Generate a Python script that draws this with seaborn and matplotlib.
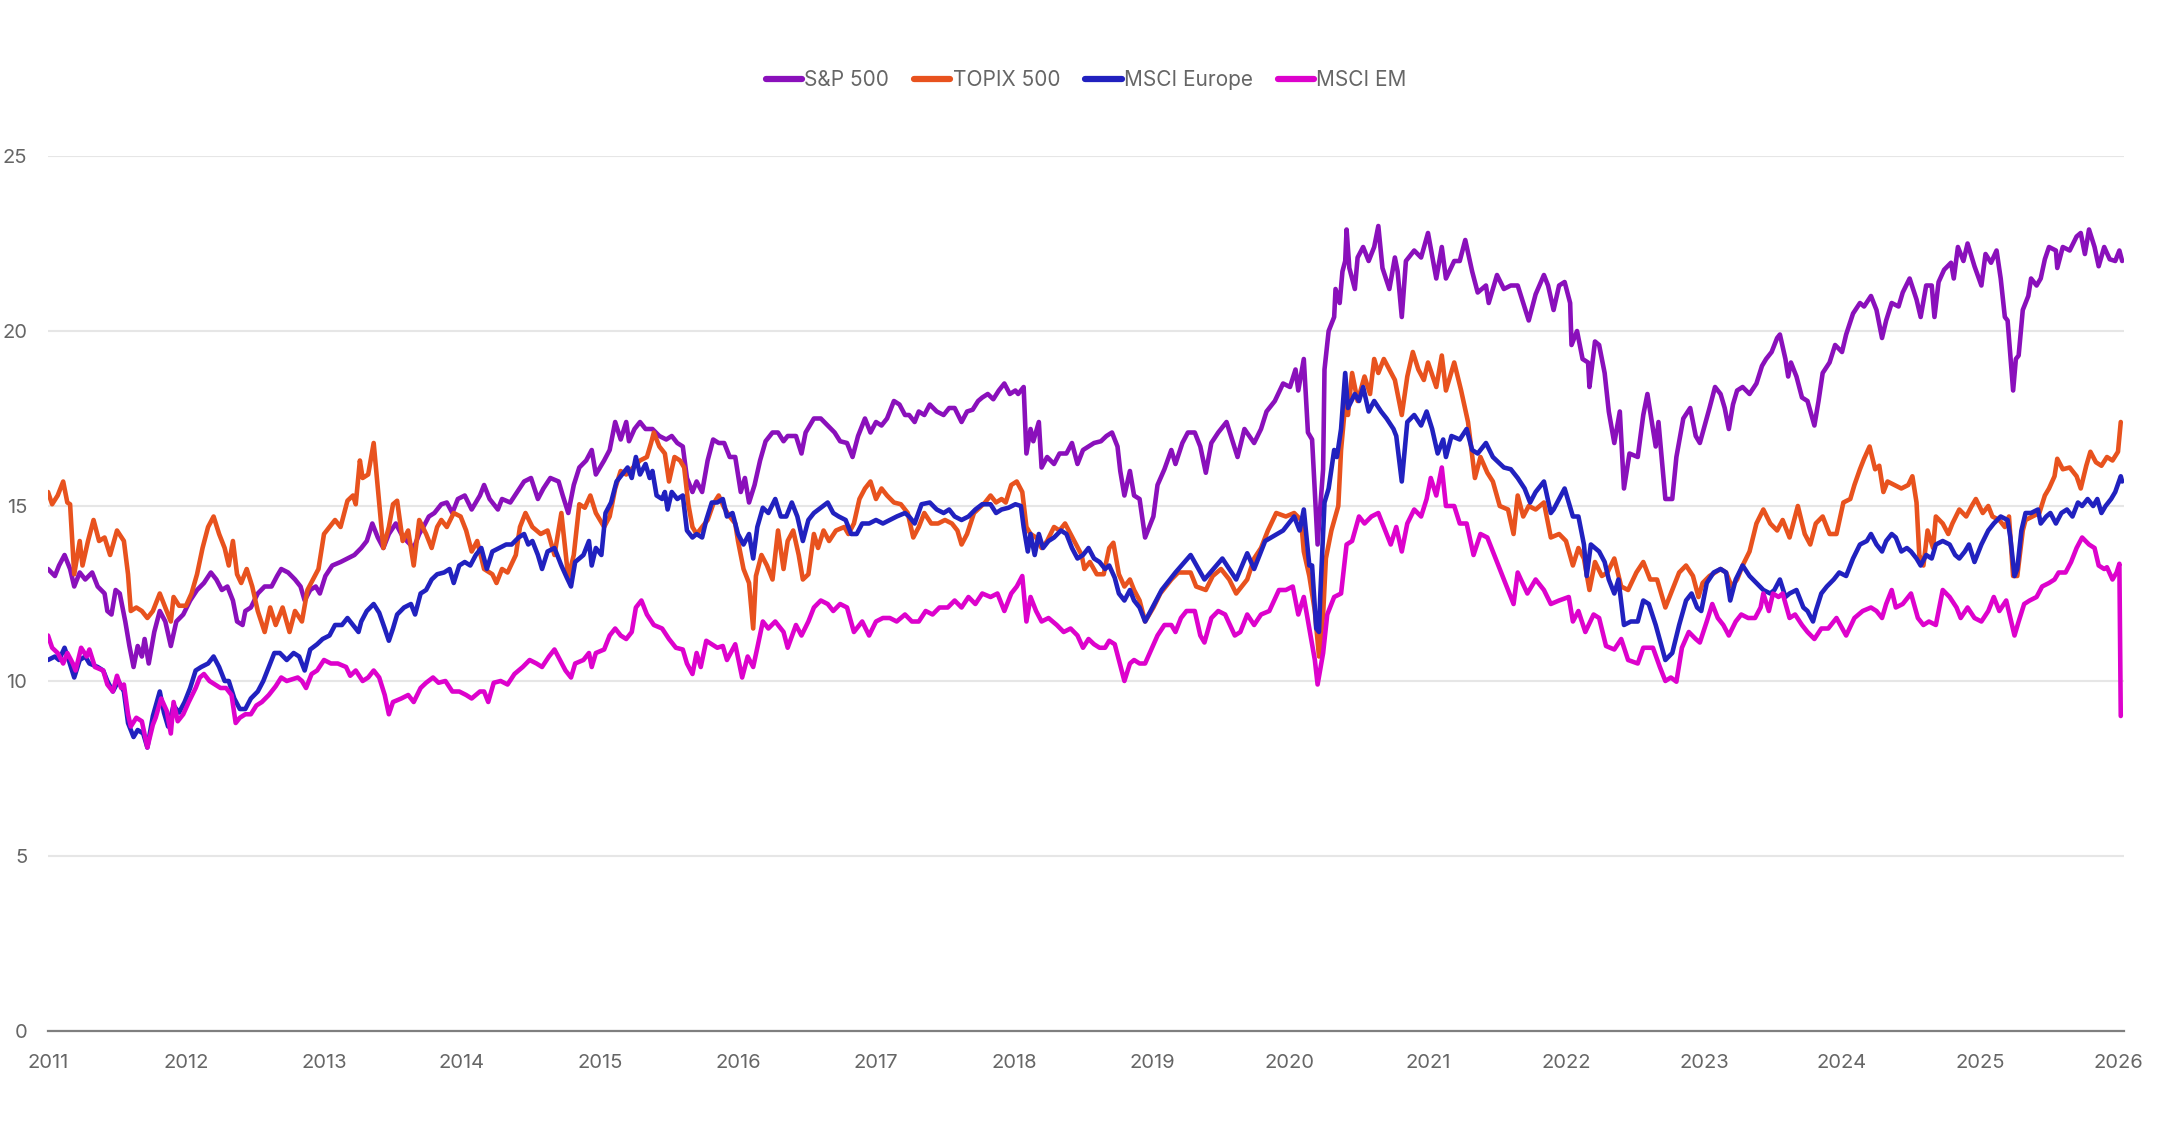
import pandas as pd
import matplotlib
matplotlib.use("Agg")
import matplotlib.pyplot as plt
import seaborn as sns

# Forward P/E (decimal year, value)
sp500 = [
    (2011.00, 13.2), (2011.05, 13.0), (2011.08, 13.3), (2011.12, 13.6), (2011.16, 13.2), (2011.19, 12.7),
    (2011.23, 13.1), (2011.27, 12.9), (2011.32, 13.1), (2011.36, 12.7), (2011.41, 12.5), (2011.43, 12.0),
    (2011.46, 11.9), (2011.49, 12.6), (2011.52, 12.5), (2011.56, 11.7), (2011.59, 11.0), (2011.62, 10.4),
    (2011.65, 11.0), (2011.68, 10.7), (2011.70, 11.2), (2011.73, 10.5), (2011.77, 11.4), (2011.81, 12.0),
    (2011.85, 11.7), (2011.89, 11.0), (2011.93, 11.7), (2011.98, 11.9), (2012.03, 12.3), (2012.08, 12.6),
    (2012.13, 12.8), (2012.18, 13.1), (2012.22, 12.9), (2012.26, 12.6), (2012.30, 12.7), (2012.34, 12.3),
    (2012.37, 11.7), (2012.41, 11.6), (2012.43, 12.0), (2012.47, 12.1), (2012.52, 12.5), (2012.57, 12.7),
    (2012.62, 12.7), (2012.66, 13.0), (2012.69, 13.2), (2012.74, 13.1), (2012.79, 12.9), (2012.83, 12.7),
    (2012.86, 12.3), (2012.90, 12.6), (2012.94, 12.7), (2012.97, 12.5), (2013.01, 13.0), (2013.06, 13.3),
    (2013.12, 13.4), (2013.17, 13.5), (2013.22, 13.6), (2013.27, 13.8), (2013.31, 14.0), (2013.35, 14.5),
    (2013.39, 14.1), (2013.43, 13.8), (2013.47, 14.2), (2013.52, 14.5), (2013.56, 14.2), (2013.60, 14.0),
    (2013.65, 13.8), (2013.69, 14.2), (2013.72, 14.4), (2013.76, 14.7), (2013.80, 14.8), (2013.85, 15.05),
    (2013.89, 15.1), (2013.93, 14.8), (2013.97, 15.2), (2014.02, 15.3), (2014.07, 14.9), (2014.13, 15.3),
    (2014.16, 15.6), (2014.20, 15.2), (2014.26, 14.9), (2014.29, 15.2), (2014.35, 15.1), (2014.40, 15.4),
    (2014.45, 15.7), (2014.50, 15.8), (2014.55, 15.2), (2014.59, 15.5), (2014.64, 15.8), (2014.70, 15.7),
    (2014.73, 15.3), (2014.77, 14.8), (2014.81, 15.6), (2014.85, 16.1), (2014.90, 16.3), (2014.94, 16.6),
    (2014.97, 15.9), (2015.03, 16.3), (2015.07, 16.6), (2015.11, 17.4), (2015.15, 16.9), (2015.19, 17.4),
    (2015.21, 16.85), (2015.25, 17.2), (2015.29, 17.4), (2015.33, 17.2), (2015.38, 17.2), (2015.43, 17.0),
    (2015.48, 16.9), (2015.52, 17.0), (2015.56, 16.8), (2015.60, 16.7), (2015.63, 15.8), (2015.67, 15.4),
    (2015.70, 15.7), (2015.74, 15.4), (2015.78, 16.3), (2015.82, 16.9), (2015.86, 16.8), (2015.90, 16.8),
    (2015.94, 16.4), (2015.98, 16.4), (2016.02, 15.4), (2016.05, 15.8), (2016.08, 15.1), (2016.12, 15.6),
    (2016.16, 16.3), (2016.20, 16.85), (2016.25, 17.1), (2016.29, 17.1), (2016.33, 16.85), (2016.36, 17.0),
    (2016.42, 17.0), (2016.46, 16.5), (2016.49, 17.1), (2016.55, 17.5), (2016.60, 17.5), (2016.65, 17.3),
    (2016.70, 17.1), (2016.74, 16.85), (2016.79, 16.8), (2016.83, 16.4), (2016.87, 17.0), (2016.92, 17.5),
    (2016.96, 17.1), (2017.00, 17.4), (2017.04, 17.3), (2017.08, 17.5), (2017.13, 18.0), (2017.17, 17.9),
    (2017.21, 17.6), (2017.24, 17.6), (2017.28, 17.4), (2017.31, 17.7), (2017.35, 17.6), (2017.39, 17.9),
    (2017.44, 17.7), (2017.49, 17.6), (2017.53, 17.8), (2017.57, 17.8), (2017.62, 17.4), (2017.66, 17.7),
    (2017.70, 17.75), (2017.74, 18.0), (2017.77, 18.1), (2017.81, 18.2), (2017.85, 18.05), (2017.89, 18.3),
    (2017.93, 18.5), (2017.97, 18.2), (2018.01, 18.3), (2018.03, 18.2), (2018.07, 18.4), (2018.09, 16.5),
    (2018.12, 17.2), (2018.14, 16.85), (2018.18, 17.4), (2018.20, 16.1), (2018.24, 16.4), (2018.29, 16.2),
    (2018.33, 16.5), (2018.38, 16.5), (2018.42, 16.8), (2018.46, 16.2), (2018.50, 16.6), (2018.54, 16.7),
    (2018.58, 16.8), (2018.63, 16.85), (2018.67, 17.0), (2018.71, 17.1), (2018.75, 16.7), (2018.77, 16.0),
    (2018.80, 15.3), (2018.84, 16.0), (2018.87, 15.3), (2018.91, 15.2), (2018.95, 14.1), (2019.01, 14.7),
    (2019.04, 15.6), (2019.09, 16.05), (2019.14, 16.6), (2019.17, 16.2), (2019.22, 16.8), (2019.26, 17.1),
    (2019.31, 17.1), (2019.35, 16.7), (2019.39, 15.95), (2019.43, 16.8), (2019.48, 17.1), (2019.54, 17.4),
    (2019.58, 16.9), (2019.62, 16.4), (2019.67, 17.2), (2019.74, 16.8), (2019.79, 17.2), (2019.83, 17.7),
    (2019.89, 18.0), (2019.95, 18.5), (2020.00, 18.4), (2020.04, 18.9), (2020.06, 18.3), (2020.10, 19.2),
    (2020.13, 17.1), (2020.16, 16.9), (2020.20, 13.9), (2020.22, 15.0), (2020.24, 16.05), (2020.25, 18.9),
    (2020.28, 20.0), (2020.32, 20.4), (2020.33, 21.2), (2020.36, 20.8), (2020.38, 21.7), (2020.40, 22.0),
    (2020.41, 22.9), (2020.43, 21.8), (2020.47, 21.2), (2020.49, 22.1), (2020.53, 22.4), (2020.57, 22.0),
    (2020.61, 22.4), (2020.64, 23.0), (2020.67, 21.8), (2020.72, 21.2), (2020.76, 22.1), (2020.78, 21.7),
    (2020.81, 20.4), (2020.84, 22.0), (2020.90, 22.3), (2020.95, 22.1), (2021.00, 22.8), (2021.06, 21.5),
    (2021.10, 22.4), (2021.13, 21.5), (2021.19, 22.0), (2021.23, 22.0), (2021.27, 22.6), (2021.32, 21.7),
    (2021.36, 21.1), (2021.42, 21.3), (2021.44, 20.8), (2021.50, 21.6), (2021.55, 21.2), (2021.60, 21.3),
    (2021.65, 21.3), (2021.69, 20.8), (2021.73, 20.3), (2021.78, 21.05), (2021.84, 21.6), (2021.87, 21.3),
    (2021.91, 20.6), (2021.95, 21.3), (2021.99, 21.4), (2022.03, 20.8), (2022.04, 19.6), (2022.08, 20.0),
    (2022.12, 19.2), (2022.16, 19.1), (2022.17, 18.4), (2022.21, 19.7), (2022.24, 19.6), (2022.28, 18.8),
    (2022.31, 17.7), (2022.35, 16.8), (2022.39, 17.7), (2022.42, 15.5), (2022.46, 16.5), (2022.52, 16.4),
    (2022.56, 17.6), (2022.59, 18.2), (2022.65, 16.7), (2022.67, 17.4), (2022.72, 15.2), (2022.77, 15.2),
    (2022.80, 16.4), (2022.85, 17.5), (2022.90, 17.8), (2022.94, 17.0), (2022.97, 16.8), (2023.04, 17.8),
    (2023.08, 18.4), (2023.12, 18.2), (2023.15, 17.8), (2023.18, 17.2), (2023.21, 17.9), (2023.24, 18.3),
    (2023.28, 18.4), (2023.33, 18.2), (2023.38, 18.5), (2023.42, 19.0), (2023.45, 19.2), (2023.49, 19.4),
    (2023.53, 19.8), (2023.55, 19.9), (2023.59, 19.2), (2023.61, 18.7), (2023.63, 19.1), (2023.67, 18.7),
    (2023.71, 18.1), (2023.75, 18.0), (2023.80, 17.3), (2023.83, 18.0), (2023.86, 18.8), (2023.91, 19.1),
    (2023.95, 19.6), (2024.00, 19.4), (2024.03, 19.9), (2024.08, 20.5), (2024.13, 20.8), (2024.16, 20.7),
    (2024.21, 21.0), (2024.25, 20.6), (2024.29, 19.8), (2024.32, 20.3), (2024.36, 20.8), (2024.41, 20.7),
    (2024.44, 21.1), (2024.49, 21.5), (2024.54, 20.9), (2024.57, 20.4), (2024.61, 21.3), (2024.65, 21.3),
    (2024.67, 20.4), (2024.70, 21.4), (2024.74, 21.75), (2024.79, 21.95), (2024.81, 21.5), (2024.84, 22.4),
    (2024.88, 22.0), (2024.91, 22.5), (2024.96, 21.85), (2025.01, 21.3), (2025.04, 22.2), (2025.08, 21.95),
    (2025.12, 22.3), (2025.15, 21.5), (2025.18, 20.4), (2025.20, 20.3), (2025.22, 19.3), (2025.24, 18.3),
    (2025.26, 19.2), (2025.28, 19.3), (2025.31, 20.6), (2025.35, 21.0), (2025.37, 21.5), (2025.41, 21.3),
    (2025.44, 21.5), (2025.47, 22.05), (2025.50, 22.4), (2025.55, 22.3), (2025.56, 21.8), (2025.60, 22.4),
    (2025.65, 22.3), (2025.70, 22.7), (2025.73, 22.8), (2025.76, 22.2), (2025.79, 22.9), (2025.83, 22.4),
    (2025.86, 21.85), (2025.90, 22.4), (2025.94, 22.05), (2025.98, 22.0), (2026.01, 22.3), (2026.03, 22.0),
]

topix500 = [
    (2011.00, 15.4), (2011.03, 15.05), (2011.07, 15.3), (2011.11, 15.7), (2011.14, 15.1), (2011.16, 15.05),
    (2011.19, 13.05), (2011.23, 14.0), (2011.25, 13.3), (2011.29, 14.0), (2011.33, 14.6), (2011.37, 14.0),
    (2011.41, 14.1), (2011.45, 13.6), (2011.50, 14.3), (2011.55, 14.0), (2011.58, 13.05), (2011.60, 12.0),
    (2011.64, 12.1), (2011.68, 12.0), (2011.72, 11.8), (2011.76, 12.0), (2011.81, 12.5), (2011.85, 12.1),
    (2011.89, 11.7), (2011.91, 12.4), (2011.95, 12.15), (2012.00, 12.15), (2012.04, 12.5), (2012.08, 13.05),
    (2012.12, 13.8), (2012.16, 14.4), (2012.20, 14.7), (2012.24, 14.2), (2012.28, 13.8), (2012.31, 13.3),
    (2012.34, 14.0), (2012.37, 13.05), (2012.40, 12.8), (2012.44, 13.2), (2012.48, 12.7), (2012.52, 12.0),
    (2012.57, 11.4), (2012.61, 12.1), (2012.65, 11.6), (2012.70, 12.1), (2012.75, 11.4), (2012.79, 12.0),
    (2012.84, 11.7), (2012.88, 12.6), (2012.92, 12.9), (2012.96, 13.2), (2013.00, 14.2), (2013.04, 14.4),
    (2013.08, 14.6), (2013.12, 14.4), (2013.17, 15.15), (2013.21, 15.3), (2013.23, 15.05), (2013.26, 16.3),
    (2013.28, 15.8), (2013.32, 15.9), (2013.36, 16.8), (2013.39, 15.5), (2013.43, 13.8), (2013.47, 14.4),
    (2013.50, 15.05), (2013.53, 15.15), (2013.57, 14.0), (2013.61, 14.3), (2013.65, 13.3), (2013.69, 14.6),
    (2013.74, 14.2), (2013.78, 13.8), (2013.82, 14.4), (2013.85, 14.6), (2013.89, 14.4), (2013.94, 14.8),
    (2013.99, 14.7), (2014.03, 14.3), (2014.07, 13.7), (2014.11, 14.0), (2014.16, 13.2), (2014.22, 13.05),
    (2014.25, 12.8), (2014.29, 13.2), (2014.33, 13.1), (2014.39, 13.6), (2014.42, 14.4), (2014.46, 14.8),
    (2014.51, 14.4), (2014.57, 14.2), (2014.62, 14.3), (2014.67, 13.6), (2014.72, 14.8), (2014.77, 12.95),
    (2014.81, 13.6), (2014.85, 15.05), (2014.89, 14.95), (2014.93, 15.3), (2014.97, 14.8), (2015.03, 14.4),
    (2015.07, 14.7), (2015.11, 15.5), (2015.15, 16.0), (2015.19, 15.9), (2015.24, 16.1), (2015.29, 16.3),
    (2015.34, 16.4), (2015.37, 16.8), (2015.39, 17.1), (2015.43, 16.7), (2015.47, 16.5), (2015.50, 15.7),
    (2015.54, 16.4), (2015.58, 16.3), (2015.61, 16.1), (2015.64, 15.05), (2015.67, 14.4), (2015.70, 14.2),
    (2015.74, 14.4), (2015.78, 14.6), (2015.82, 15.05), (2015.86, 15.3), (2015.90, 14.95), (2015.94, 14.7),
    (2015.98, 14.5), (2016.00, 14.0), (2016.04, 13.2), (2016.08, 12.8), (2016.11, 11.5), (2016.13, 13.0),
    (2016.17, 13.6), (2016.21, 13.3), (2016.25, 12.9), (2016.29, 14.3), (2016.33, 13.2), (2016.36, 14.0),
    (2016.40, 14.3), (2016.44, 13.6), (2016.47, 12.9), (2016.51, 13.05), (2016.55, 14.2), (2016.58, 13.8),
    (2016.62, 14.3), (2016.66, 14.0), (2016.71, 14.3), (2016.77, 14.4), (2016.80, 14.2), (2016.84, 14.5),
    (2016.88, 15.2), (2016.92, 15.5), (2016.96, 15.7), (2017.00, 15.2), (2017.04, 15.5), (2017.08, 15.3),
    (2017.13, 15.1), (2017.18, 15.05), (2017.23, 14.8), (2017.27, 14.1), (2017.31, 14.4), (2017.35, 14.8),
    (2017.40, 14.5), (2017.45, 14.5), (2017.50, 14.6), (2017.55, 14.5), (2017.59, 14.3), (2017.62, 13.9),
    (2017.66, 14.2), (2017.71, 14.8), (2017.75, 14.95), (2017.79, 15.1), (2017.83, 15.3), (2017.87, 15.1),
    (2017.91, 15.2), (2017.94, 15.1), (2017.98, 15.6), (2018.02, 15.7), (2018.06, 15.4), (2018.09, 14.4),
    (2018.12, 14.2), (2018.16, 14.1), (2018.20, 13.8), (2018.24, 14.0), (2018.29, 14.4), (2018.33, 14.3),
    (2018.37, 14.5), (2018.41, 14.2), (2018.45, 13.9), (2018.49, 13.6), (2018.51, 13.2), (2018.55, 13.4),
    (2018.60, 13.05), (2018.65, 13.05), (2018.69, 13.8), (2018.72, 13.95), (2018.76, 13.05), (2018.80, 12.7),
    (2018.84, 12.9), (2018.87, 12.6), (2018.91, 12.3), (2018.95, 11.7), (2019.01, 12.1), (2019.06, 12.5),
    (2019.14, 12.9), (2019.19, 13.1), (2019.28, 13.1), (2019.32, 12.7), (2019.39, 12.6), (2019.44, 13.0),
    (2019.50, 13.2), (2019.56, 12.9), (2019.61, 12.5), (2019.69, 12.9), (2019.74, 13.5), (2019.79, 13.8),
    (2019.84, 14.3), (2019.90, 14.8), (2019.97, 14.7), (2020.03, 14.8), (2020.08, 14.6), (2020.10, 13.7),
    (2020.14, 13.0), (2020.18, 12.0), (2020.21, 10.7), (2020.24, 11.9), (2020.26, 13.5), (2020.30, 14.3),
    (2020.35, 15.0), (2020.37, 16.6), (2020.40, 17.9), (2020.42, 17.6), (2020.45, 18.8), (2020.49, 18.0),
    (2020.54, 18.7), (2020.58, 18.2), (2020.61, 19.2), (2020.64, 18.8), (2020.68, 19.2), (2020.72, 18.9),
    (2020.76, 18.6), (2020.81, 17.6), (2020.85, 18.7), (2020.89, 19.4), (2020.93, 18.9), (2020.97, 18.6),
    (2021.00, 19.1), (2021.06, 18.4), (2021.10, 19.3), (2021.13, 18.3), (2021.19, 19.1), (2021.24, 18.3),
    (2021.29, 17.4), (2021.34, 15.8), (2021.38, 16.4), (2021.43, 15.95), (2021.47, 15.7), (2021.52, 15.0),
    (2021.58, 14.9), (2021.62, 14.2), (2021.65, 15.3), (2021.69, 14.7), (2021.73, 15.0), (2021.78, 14.9),
    (2021.84, 15.1), (2021.89, 14.1), (2021.95, 14.2), (2022.00, 14.0), (2022.05, 13.3), (2022.09, 13.8),
    (2022.13, 13.5), (2022.17, 12.6), (2022.21, 13.4), (2022.26, 13.0), (2022.30, 13.1), (2022.35, 13.5),
    (2022.40, 12.7), (2022.45, 12.6), (2022.51, 13.1), (2022.56, 13.4), (2022.61, 12.9), (2022.66, 12.9),
    (2022.72, 12.1), (2022.76, 12.5), (2022.82, 13.1), (2022.87, 13.3), (2022.92, 13.0), (2022.96, 12.4),
    (2022.99, 12.8), (2023.04, 13.0), (2023.12, 13.2), (2023.16, 13.1), (2023.20, 12.7), (2023.24, 12.9),
    (2023.28, 13.3), (2023.33, 13.7), (2023.38, 14.5), (2023.43, 14.9), (2023.48, 14.5), (2023.53, 14.3),
    (2023.57, 14.6), (2023.62, 14.1), (2023.68, 15.0), (2023.73, 14.2), (2023.77, 13.9), (2023.81, 14.5),
    (2023.86, 14.7), (2023.91, 14.2), (2023.96, 14.2), (2024.01, 15.1), (2024.06, 15.2), (2024.09, 15.6),
    (2024.13, 16.05), (2024.16, 16.35), (2024.20, 16.7), (2024.24, 16.05), (2024.27, 16.15), (2024.30, 15.4),
    (2024.33, 15.7), (2024.38, 15.6), (2024.43, 15.5), (2024.48, 15.6), (2024.51, 15.85), (2024.54, 15.1),
    (2024.56, 13.6), (2024.59, 13.3), (2024.62, 14.3), (2024.66, 13.8), (2024.68, 14.7), (2024.73, 14.5),
    (2024.77, 14.2), (2024.80, 14.5), (2024.85, 14.9), (2024.90, 14.7), (2024.94, 15.0), (2024.97, 15.2),
    (2025.02, 14.8), (2025.06, 15.0), (2025.09, 14.7), (2025.14, 14.6), (2025.18, 14.4), (2025.21, 14.7),
    (2025.24, 13.0), (2025.27, 13.0), (2025.31, 14.3), (2025.33, 14.6), (2025.38, 14.7), (2025.43, 14.8),
    (2025.47, 15.3), (2025.50, 15.5), (2025.54, 15.85), (2025.56, 16.35), (2025.60, 16.05), (2025.65, 16.1),
    (2025.70, 15.85), (2025.73, 15.5), (2025.77, 16.15), (2025.80, 16.55), (2025.84, 16.25), (2025.88, 16.15),
    (2025.92, 16.4), (2025.96, 16.3), (2026.00, 16.55), (2026.02, 17.4),
]

msci_europe = [
    (2011.00, 10.6), (2011.05, 10.7), (2011.08, 10.6), (2011.12, 10.95), (2011.15, 10.6), (2011.19, 10.1),
    (2011.23, 10.6), (2011.27, 10.7), (2011.30, 10.5), (2011.36, 10.4), (2011.40, 10.3), (2011.43, 10.0),
    (2011.47, 9.7), (2011.51, 10.0), (2011.55, 9.7), (2011.58, 8.8), (2011.62, 8.4), (2011.65, 8.6),
    (2011.69, 8.5), (2011.72, 8.1), (2011.76, 9.0), (2011.81, 9.7), (2011.84, 9.1), (2011.87, 8.7),
    (2011.91, 9.3), (2011.95, 9.1), (2011.99, 9.4), (2012.03, 9.8), (2012.07, 10.3), (2012.11, 10.4),
    (2012.16, 10.5), (2012.20, 10.7), (2012.24, 10.4), (2012.28, 10.0), (2012.31, 10.0), (2012.35, 9.5),
    (2012.39, 9.2), (2012.43, 9.2), (2012.47, 9.5), (2012.52, 9.7), (2012.56, 10.0), (2012.60, 10.4),
    (2012.64, 10.8), (2012.68, 10.8), (2012.73, 10.6), (2012.78, 10.8), (2012.82, 10.7), (2012.86, 10.3),
    (2012.90, 10.9), (2012.95, 11.05), (2012.99, 11.2), (2013.04, 11.3), (2013.08, 11.6), (2013.13, 11.6),
    (2013.17, 11.8), (2013.21, 11.6), (2013.25, 11.4), (2013.27, 11.7), (2013.31, 12.0), (2013.36, 12.2),
    (2013.40, 11.95), (2013.44, 11.5), (2013.47, 11.15), (2013.50, 11.5), (2013.53, 11.9), (2013.58, 12.1),
    (2013.63, 12.2), (2013.66, 11.9), (2013.70, 12.5), (2013.74, 12.6), (2013.78, 12.9), (2013.82, 13.05),
    (2013.87, 13.1), (2013.91, 13.2), (2013.94, 12.8), (2013.98, 13.3), (2014.02, 13.4), (2014.06, 13.3),
    (2014.10, 13.6), (2014.14, 13.8), (2014.18, 13.2), (2014.22, 13.7), (2014.27, 13.8), (2014.32, 13.9),
    (2014.36, 13.9), (2014.41, 14.1), (2014.45, 14.2), (2014.48, 13.9), (2014.51, 14.0), (2014.55, 13.6),
    (2014.58, 13.2), (2014.62, 13.7), (2014.67, 13.8), (2014.72, 13.3), (2014.76, 12.95), (2014.79, 12.7),
    (2014.82, 13.4), (2014.88, 13.6), (2014.92, 14.0), (2014.94, 13.3), (2014.97, 13.8), (2015.01, 13.6),
    (2015.04, 14.8), (2015.08, 15.1), (2015.12, 15.7), (2015.16, 15.9), (2015.20, 16.1), (2015.23, 15.8),
    (2015.26, 16.4), (2015.29, 15.9), (2015.33, 16.2), (2015.36, 15.8), (2015.38, 16.0), (2015.41, 15.3),
    (2015.45, 15.2), (2015.47, 15.4), (2015.49, 14.9), (2015.52, 15.4), (2015.56, 15.2), (2015.60, 15.3),
    (2015.63, 14.3), (2015.67, 14.1), (2015.70, 14.2), (2015.74, 14.1), (2015.77, 14.6), (2015.81, 15.1),
    (2015.85, 15.1), (2015.89, 15.2), (2015.92, 14.7), (2015.96, 14.8), (2016.00, 14.2), (2016.04, 13.9),
    (2016.08, 14.2), (2016.11, 13.5), (2016.14, 14.4), (2016.18, 14.95), (2016.22, 14.8), (2016.27, 15.2),
    (2016.31, 14.7), (2016.35, 14.7), (2016.39, 15.1), (2016.43, 14.7), (2016.47, 14.0), (2016.51, 14.6),
    (2016.55, 14.8), (2016.60, 14.95), (2016.65, 15.1), (2016.69, 14.8), (2016.73, 14.7), (2016.78, 14.6),
    (2016.82, 14.2), (2016.86, 14.2), (2016.90, 14.5), (2016.95, 14.5), (2017.00, 14.6), (2017.05, 14.5),
    (2017.10, 14.6), (2017.15, 14.7), (2017.21, 14.8), (2017.24, 14.7), (2017.28, 14.5), (2017.33, 15.05),
    (2017.39, 15.1), (2017.44, 14.9), (2017.49, 14.8), (2017.53, 14.9), (2017.57, 14.7), (2017.62, 14.6),
    (2017.67, 14.7), (2017.72, 14.9), (2017.77, 15.05), (2017.83, 15.05), (2017.87, 14.8), (2017.91, 14.9),
    (2017.96, 14.95), (2018.01, 15.05), (2018.05, 15.0), (2018.07, 14.4), (2018.10, 13.7), (2018.12, 14.2),
    (2018.15, 13.6), (2018.18, 14.2), (2018.21, 13.8), (2018.25, 14.0), (2018.29, 14.1), (2018.34, 14.3),
    (2018.38, 14.2), (2018.42, 13.8), (2018.46, 13.5), (2018.50, 13.6), (2018.54, 13.8), (2018.58, 13.5),
    (2018.62, 13.4), (2018.66, 13.2), (2018.69, 13.3), (2018.73, 12.95), (2018.76, 12.5), (2018.80, 12.3),
    (2018.84, 12.6), (2018.87, 12.3), (2018.91, 12.1), (2018.95, 11.7), (2019.07, 12.6), (2019.17, 13.1),
    (2019.28, 13.6), (2019.38, 12.9), (2019.51, 13.5), (2019.61, 12.9), (2019.69, 13.65), (2019.74, 13.2),
    (2019.82, 14.0), (2019.95, 14.3), (2020.03, 14.7), (2020.07, 14.3), (2020.10, 14.9), (2020.14, 13.3),
    (2020.16, 13.3), (2020.19, 11.5), (2020.21, 11.4), (2020.22, 12.5), (2020.25, 15.1), (2020.28, 15.5),
    (2020.32, 16.6), (2020.34, 16.4), (2020.37, 17.2), (2020.40, 18.8), (2020.42, 17.8), (2020.47, 18.2),
    (2020.50, 18.0), (2020.53, 18.4), (2020.57, 17.7), (2020.61, 18.0), (2020.66, 17.7), (2020.70, 17.5),
    (2020.75, 17.2), (2020.77, 17.0), (2020.81, 15.7), (2020.85, 17.4), (2020.90, 17.6), (2020.95, 17.3),
    (2020.99, 17.7), (2021.03, 17.2), (2021.07, 16.5), (2021.11, 16.9), (2021.13, 16.4), (2021.17, 17.0),
    (2021.23, 16.9), (2021.28, 17.2), (2021.32, 16.6), (2021.36, 16.5), (2021.42, 16.8), (2021.47, 16.4),
    (2021.55, 16.1), (2021.60, 16.05), (2021.65, 15.8), (2021.70, 15.5), (2021.74, 15.1), (2021.78, 15.4),
    (2021.84, 15.7), (2021.89, 14.8), (2021.91, 14.9), (2021.99, 15.5), (2022.05, 14.7), (2022.09, 14.7),
    (2022.13, 13.9), (2022.15, 13.0), (2022.18, 13.9), (2022.24, 13.7), (2022.28, 13.4), (2022.31, 12.9),
    (2022.35, 12.5), (2022.38, 12.9), (2022.42, 11.6), (2022.47, 11.7), (2022.52, 11.7), (2022.56, 12.3),
    (2022.60, 12.2), (2022.65, 11.6), (2022.72, 10.6), (2022.77, 10.8), (2022.82, 11.6), (2022.87, 12.3),
    (2022.91, 12.5), (2022.95, 12.1), (2022.98, 12.0), (2023.02, 12.8), (2023.07, 13.1), (2023.12, 13.2),
    (2023.16, 13.1), (2023.19, 12.3), (2023.23, 12.9), (2023.28, 13.3), (2023.33, 13.0), (2023.38, 12.8),
    (2023.43, 12.6), (2023.48, 12.5), (2023.51, 12.6), (2023.55, 12.9), (2023.59, 12.4), (2023.62, 12.5),
    (2023.67, 12.6), (2023.72, 12.1), (2023.75, 12.0), (2023.79, 11.7), (2023.81, 12.0), (2023.85, 12.5),
    (2023.89, 12.7), (2023.94, 12.9), (2023.98, 13.1), (2024.03, 13.0), (2024.08, 13.5), (2024.13, 13.9),
    (2024.18, 14.0), (2024.21, 14.2), (2024.25, 13.9), (2024.29, 13.7), (2024.32, 14.0), (2024.36, 14.2),
    (2024.39, 14.1), (2024.43, 13.7), (2024.47, 13.8), (2024.50, 13.7), (2024.54, 13.5), (2024.57, 13.3),
    (2024.61, 13.6), (2024.65, 13.5), (2024.68, 13.9), (2024.73, 14.0), (2024.78, 13.9), (2024.82, 13.6),
    (2024.85, 13.5), (2024.89, 13.7), (2024.92, 13.9), (2024.96, 13.4), (2025.01, 13.9), (2025.06, 14.3),
    (2025.10, 14.5), (2025.15, 14.7), (2025.20, 14.6), (2025.22, 14.1), (2025.25, 13.0), (2025.27, 13.2),
    (2025.30, 14.3), (2025.33, 14.8), (2025.37, 14.8), (2025.42, 14.9), (2025.44, 14.5), (2025.48, 14.7),
    (2025.51, 14.8), (2025.55, 14.5), (2025.59, 14.8), (2025.63, 14.9), (2025.67, 14.7), (2025.71, 15.1),
    (2025.74, 15.0), (2025.78, 15.2), (2025.82, 15.0), (2025.85, 15.2), (2025.88, 14.8), (2025.91, 15.0),
    (2025.95, 15.2), (2025.98, 15.4), (2026.02, 15.85), (2026.03, 15.7),
]

msci_em = [
    (2011.00, 11.3), (2011.03, 10.95), (2011.07, 10.8), (2011.11, 10.5), (2011.14, 10.8), (2011.18, 10.5),
    (2011.20, 10.3), (2011.24, 10.95), (2011.28, 10.7), (2011.30, 10.9), (2011.34, 10.4), (2011.40, 10.3),
    (2011.43, 9.9), (2011.47, 9.7), (2011.50, 10.15), (2011.53, 9.8), (2011.55, 9.9), (2011.58, 9.05),
    (2011.60, 8.7), (2011.64, 8.95), (2011.68, 8.85), (2011.72, 8.1), (2011.76, 8.75), (2011.78, 8.95),
    (2011.82, 9.5), (2011.86, 9.15), (2011.89, 8.5), (2011.91, 9.4), (2011.94, 8.85), (2011.98, 9.05),
    (2012.02, 9.4), (2012.07, 9.8), (2012.10, 10.1), (2012.13, 10.2), (2012.17, 10.0), (2012.21, 9.9),
    (2012.25, 9.8), (2012.29, 9.8), (2012.33, 9.6), (2012.36, 8.8), (2012.39, 8.95), (2012.43, 9.05),
    (2012.47, 9.05), (2012.51, 9.3), (2012.55, 9.4), (2012.60, 9.6), (2012.65, 9.85), (2012.69, 10.1),
    (2012.73, 10.0), (2012.77, 10.05), (2012.81, 10.1), (2012.84, 10.0), (2012.87, 9.8), (2012.91, 10.2),
    (2012.95, 10.3), (2013.00, 10.6), (2013.05, 10.5), (2013.10, 10.5), (2013.16, 10.4), (2013.19, 10.15),
    (2013.23, 10.3), (2013.28, 10.0), (2013.32, 10.1), (2013.36, 10.3), (2013.40, 10.1), (2013.44, 9.6),
    (2013.47, 9.05), (2013.50, 9.4), (2013.56, 9.5), (2013.61, 9.6), (2013.65, 9.4), (2013.70, 9.8),
    (2013.74, 9.95), (2013.79, 10.1), (2013.83, 9.95), (2013.88, 10.0), (2013.93, 9.7), (2013.98, 9.7),
    (2014.03, 9.6), (2014.07, 9.5), (2014.13, 9.7), (2014.16, 9.7), (2014.19, 9.4), (2014.23, 9.95),
    (2014.28, 10.0), (2014.33, 9.9), (2014.38, 10.2), (2014.44, 10.4), (2014.49, 10.6), (2014.54, 10.5),
    (2014.58, 10.4), (2014.63, 10.7), (2014.67, 10.9), (2014.71, 10.6), (2014.75, 10.3), (2014.79, 10.1),
    (2014.82, 10.5), (2014.88, 10.6), (2014.92, 10.8), (2014.94, 10.4), (2014.97, 10.8), (2015.03, 10.9),
    (2015.07, 11.3), (2015.11, 11.5), (2015.15, 11.3), (2015.19, 11.2), (2015.23, 11.4), (2015.26, 12.1),
    (2015.30, 12.3), (2015.34, 11.9), (2015.39, 11.6), (2015.45, 11.5), (2015.50, 11.2), (2015.55, 10.95),
    (2015.60, 10.9), (2015.63, 10.5), (2015.67, 10.2), (2015.70, 10.8), (2015.73, 10.4), (2015.77, 11.15),
    (2015.81, 11.05), (2015.85, 10.95), (2015.89, 11.0), (2015.92, 10.6), (2015.98, 11.05), (2016.03, 10.1),
    (2016.07, 10.7), (2016.11, 10.4), (2016.14, 10.95), (2016.18, 11.7), (2016.22, 11.5), (2016.27, 11.7),
    (2016.33, 11.4), (2016.36, 10.95), (2016.42, 11.6), (2016.46, 11.3), (2016.51, 11.7), (2016.55, 12.1),
    (2016.60, 12.3), (2016.65, 12.2), (2016.69, 12.0), (2016.74, 12.2), (2016.79, 12.1), (2016.84, 11.4),
    (2016.90, 11.7), (2016.95, 11.3), (2017.00, 11.7), (2017.05, 11.8), (2017.10, 11.8), (2017.15, 11.7),
    (2017.21, 11.9), (2017.26, 11.7), (2017.31, 11.7), (2017.36, 12.0), (2017.41, 11.9), (2017.46, 12.1),
    (2017.52, 12.1), (2017.57, 12.3), (2017.62, 12.1), (2017.67, 12.4), (2017.72, 12.2), (2017.77, 12.5),
    (2017.83, 12.4), (2017.88, 12.5), (2017.93, 12.0), (2017.98, 12.5), (2018.02, 12.7), (2018.06, 13.0),
    (2018.09, 11.7), (2018.12, 12.4), (2018.16, 12.0), (2018.20, 11.7), (2018.25, 11.8), (2018.31, 11.6),
    (2018.36, 11.4), (2018.41, 11.5), (2018.46, 11.3), (2018.50, 10.95), (2018.54, 11.2), (2018.58, 11.05),
    (2018.62, 10.95), (2018.66, 10.95), (2018.69, 11.15), (2018.73, 11.05), (2018.76, 10.6), (2018.80, 10.0),
    (2018.84, 10.5), (2018.87, 10.6), (2018.91, 10.5), (2018.95, 10.5), (2019.04, 11.3), (2019.09, 11.6),
    (2019.14, 11.6), (2019.17, 11.4), (2019.21, 11.8), (2019.25, 12.0), (2019.31, 12.0), (2019.35, 11.3),
    (2019.38, 11.1), (2019.43, 11.8), (2019.48, 12.0), (2019.53, 11.9), (2019.60, 11.3), (2019.64, 11.4),
    (2019.69, 11.9), (2019.74, 11.6), (2019.79, 11.9), (2019.85, 12.0), (2019.92, 12.6), (2019.97, 12.6),
    (2020.02, 12.7), (2020.06, 11.9), (2020.10, 12.4), (2020.14, 11.5), (2020.18, 10.6), (2020.20, 9.9),
    (2020.24, 10.8), (2020.27, 11.9), (2020.32, 12.4), (2020.37, 12.5), (2020.41, 13.9), (2020.45, 14.0),
    (2020.50, 14.7), (2020.54, 14.5), (2020.59, 14.7), (2020.64, 14.8), (2020.69, 14.3), (2020.73, 13.9),
    (2020.77, 14.4), (2020.81, 13.7), (2020.85, 14.5), (2020.90, 14.9), (2020.95, 14.7), (2020.99, 15.2),
    (2021.02, 15.8), (2021.06, 15.3), (2021.10, 16.1), (2021.13, 15.0), (2021.19, 15.0), (2021.23, 14.5),
    (2021.28, 14.5), (2021.33, 13.6), (2021.38, 14.2), (2021.43, 14.1), (2021.50, 13.4), (2021.55, 12.9),
    (2021.62, 12.2), (2021.65, 13.1), (2021.72, 12.5), (2021.78, 12.9), (2021.84, 12.6), (2021.89, 12.2),
    (2021.95, 12.3), (2022.02, 12.4), (2022.05, 11.7), (2022.09, 12.0), (2022.14, 11.4), (2022.20, 11.9),
    (2022.24, 11.8), (2022.29, 11.0), (2022.35, 10.9), (2022.40, 11.2), (2022.45, 10.6), (2022.52, 10.5),
    (2022.56, 10.95), (2022.63, 10.95), (2022.68, 10.4), (2022.72, 10.0), (2022.76, 10.1), (2022.80, 9.98),
    (2022.84, 10.95), (2022.89, 11.4), (2022.94, 11.2), (2022.97, 11.1), (2023.02, 11.7), (2023.06, 12.2),
    (2023.10, 11.8), (2023.14, 11.6), (2023.18, 11.3), (2023.23, 11.7), (2023.27, 11.9), (2023.32, 11.8),
    (2023.37, 11.8), (2023.41, 12.1), (2023.43, 12.5), (2023.47, 12.0), (2023.50, 12.5), (2023.54, 12.4),
    (2023.57, 12.5), (2023.62, 11.8), (2023.66, 11.9), (2023.71, 11.6), (2023.75, 11.4), (2023.80, 11.2),
    (2023.85, 11.5), (2023.90, 11.5), (2023.96, 11.8), (2024.03, 11.3), (2024.09, 11.8), (2024.15, 12.0),
    (2024.21, 12.1), (2024.25, 12.0), (2024.29, 11.8), (2024.32, 12.2), (2024.36, 12.6), (2024.39, 12.1),
    (2024.44, 12.2), (2024.50, 12.5), (2024.55, 11.8), (2024.59, 11.6), (2024.63, 11.7), (2024.68, 11.6),
    (2024.73, 12.6), (2024.78, 12.4), (2024.83, 12.1), (2024.86, 11.8), (2024.91, 12.1), (2024.96, 11.8),
    (2025.01, 11.7), (2025.06, 12.0), (2025.10, 12.4), (2025.14, 12.0), (2025.19, 12.3), (2025.22, 11.8),
    (2025.25, 11.3), (2025.28, 11.7), (2025.32, 12.2), (2025.36, 12.3), (2025.41, 12.4), (2025.45, 12.7),
    (2025.50, 12.8), (2025.54, 12.9), (2025.57, 13.1), (2025.62, 13.1), (2025.66, 13.4), (2025.70, 13.8),
    (2025.74, 14.1), (2025.79, 13.9), (2025.83, 13.8), (2025.86, 13.3), (2025.90, 13.2), (2025.92, 13.25),
    (2025.96, 12.9), (2025.99, 13.1), (2026.01, 13.35), (2026.02, 9.0),
]

series_names = ["S&P 500", "TOPIX 500", "MSCI Europe", "MSCI EM"]
series_colors = ["#8a10bb", "#e8521e", "#2121bf", "#dd02cc"]
year_ticks = list(range(2011, 2027))
value_ticks = [0, 5, 10, 15, 20, 25]

# long form table for seaborn
frames = []
for name, pts in zip(series_names, [sp500, topix500, msci_europe, msci_em]):
    d = pd.DataFrame(pts, columns=["year", "pe"])
    d["index"] = name
    frames.append(d)
df = pd.concat(frames, ignore_index=True)

sns.set_theme(style="white")
plt.rcParams["font.family"] = ["Inter", "DejaVu Sans"]

fig = plt.figure(figsize=(21.6, 11.31), dpi=100)
ax = fig.add_axes([48 / 2160, 100 / 1131, 2076 / 2160, 875 / 1131])

sns.lineplot(
    data=df, x="year", y="pe", hue="index",
    hue_order=series_names, palette=series_colors,
    estimator=None, linewidth=3.3, ax=ax,
)

ax.set_xlim(2011, 2026 + 6 / 138)
ax.set_ylim(0, 25)
ax.set_xticks(year_ticks)
ax.set_xticklabels([str(y) for y in year_ticks])
ax.set_yticks(value_ticks)
ax.set_yticklabels([str(v) for v in value_ticks])
ax.set_xlabel("")
ax.set_ylabel("")

ax.yaxis.grid(True, color="#e6e6e6", linewidth=1.5)
ax.xaxis.grid(False)
ax.set_axisbelow(True)
for s in ["top", "right", "left"]:
    ax.spines[s].set_visible(False)
ax.spines["bottom"].set_color("#7f7f7f")
ax.spines["bottom"].set_linewidth(1.6)

ax.tick_params(axis="both", length=0, labelsize=14.5, labelcolor="#666666")
ax.tick_params(axis="x", pad=16.5)
ax.tick_params(axis="y", pad=15)

sns.move_legend(
    ax, "center", bbox_to_anchor=(0.5028, 0.929), bbox_transform=fig.transFigure,
    ncol=4, frameon=False, title=None, fontsize=15, labelcolor="#666666",
    handlelength=1.75, handletextpad=0.1, columnspacing=1.2,
)
for h in ax.get_legend().legend_handles:
    h.set_linewidth(4.5)
    h.set_solid_capstyle("round")

fig.savefig("out.png", dpi=100)
